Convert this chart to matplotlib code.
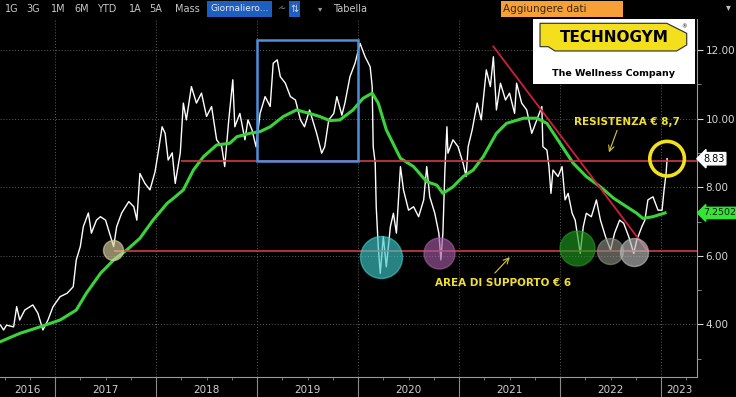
import matplotlib.pyplot as plt
import matplotlib.transforms as mtrans
from matplotlib.patches import Rectangle, Polygon

# price (decimal year, EUR)
price_t = [2016.46, 2016.49, 2016.52, 2016.59, 2016.62, 2016.65, 2016.70, 2016.78, 2016.83, 2016.88,
           2016.93, 2016.98, 2017.05, 2017.12, 2017.18, 2017.21, 2017.25, 2017.28, 2017.33, 2017.36,
           2017.41, 2017.45, 2017.50, 2017.54, 2017.58, 2017.61, 2017.66, 2017.73, 2017.78, 2017.81,
           2017.84, 2017.89, 2017.94, 2017.99, 2018.02, 2018.06, 2018.09, 2018.12, 2018.16, 2018.19,
           2018.24, 2018.27, 2018.30, 2018.35, 2018.40, 2018.45, 2018.50, 2018.55, 2018.60, 2018.65,
           2018.68, 2018.72, 2018.76, 2018.78, 2018.83, 2018.88, 2018.91, 2018.95, 2018.99, 2019.03,
           2019.08, 2019.13, 2019.16, 2019.20, 2019.23, 2019.28, 2019.33, 2019.38, 2019.43, 2019.47,
           2019.52, 2019.59, 2019.64, 2019.67, 2019.71, 2019.76, 2019.79, 2019.84, 2019.87, 2019.92,
           2019.97, 2020.02, 2020.07, 2020.12, 2020.14, 2020.15, 2020.17, 2020.18, 2020.20, 2020.22,
           2020.25, 2020.28, 2020.32, 2020.35, 2020.38, 2020.42, 2020.45, 2020.50, 2020.55, 2020.60,
           2020.65, 2020.68, 2020.71, 2020.76, 2020.80, 2020.82, 2020.84, 2020.86, 2020.88, 2020.89,
           2020.94, 2020.99, 2021.04, 2021.07, 2021.09, 2021.13, 2021.18, 2021.22, 2021.27, 2021.31,
           2021.34, 2021.37, 2021.41, 2021.46, 2021.50, 2021.55, 2021.57, 2021.62, 2021.67, 2021.72,
           2021.77, 2021.82, 2021.83, 2021.87, 2021.89, 2021.91, 2021.93, 2021.98, 2022.02, 2022.05,
           2022.08, 2022.12, 2022.15, 2022.18, 2022.20, 2022.23, 2022.26, 2022.31, 2022.36, 2022.40,
           2022.45, 2022.50, 2022.54, 2022.59, 2022.63, 2022.68, 2022.73, 2022.76, 2022.81, 2022.84,
           2022.87, 2022.92, 2022.97, 2023.01, 2023.03, 2023.05, 2023.06]
price_v = [3.98, 3.84, 3.98, 3.93, 4.52, 4.13, 4.42, 4.57, 4.33, 3.84,
           4.13, 4.52, 4.81, 4.91, 5.10, 5.88, 6.27, 6.85, 7.25, 6.66,
           7.04, 7.14, 7.04, 6.66, 6.27, 6.85, 7.25, 7.58, 7.43, 7.04,
           8.40, 8.11, 7.92, 8.45, 8.99, 9.76, 9.57, 8.79, 9.00, 8.11,
           9.00, 10.45, 9.96, 10.93, 10.45, 10.74, 10.06, 10.35, 9.38, 9.18,
           8.60, 9.96, 11.13, 9.76, 10.15, 9.38, 9.96, 9.67, 9.18, 10.15,
           10.64, 10.35, 11.61, 11.71, 11.22, 11.03, 10.64, 10.54, 9.96, 9.76,
           10.25, 9.57, 8.99, 9.18, 9.96, 10.15, 10.64, 10.10, 10.45, 11.22,
           11.61, 12.19, 11.80, 11.51, 10.93, 9.18, 8.70, 7.43, 6.27, 5.49,
           6.56, 5.68, 6.85, 7.24, 6.66, 8.60, 7.92, 7.33, 7.43, 7.14,
           7.63, 8.60, 7.72, 7.24, 6.66, 5.88, 6.66, 8.50, 9.76, 8.99,
           9.38, 9.18, 8.70, 8.31, 9.18, 9.67, 10.45, 9.96, 11.42, 10.93,
           11.80, 10.25, 11.03, 10.54, 10.74, 10.15, 11.03, 10.45, 10.25, 9.57,
           9.96, 10.35, 9.18, 9.08, 8.60, 7.82, 8.50, 8.31, 8.60, 7.63,
           7.82, 7.24, 7.04, 6.46, 6.07, 6.85, 7.24, 7.14, 7.63, 7.04,
           6.56, 6.17, 6.66, 7.04, 6.95, 6.56, 6.07, 6.46, 6.85, 7.04,
           7.63, 7.72, 7.33, 7.33, 7.92, 8.40, 8.83]

# moving average (green)
ma_t = [2016.46, 2016.65, 2016.85, 2017.05, 2017.21, 2017.31, 2017.45, 2017.58, 2017.71, 2017.84,
        2017.97, 2018.11, 2018.19, 2018.27, 2018.37, 2018.47, 2018.60, 2018.73, 2018.80, 2018.93,
        2019.03, 2019.13, 2019.26, 2019.39, 2019.52, 2019.62, 2019.72, 2019.82, 2019.95, 2020.05,
        2020.14, 2020.20, 2020.28, 2020.42, 2020.55, 2020.68, 2020.78, 2020.84, 2020.94, 2021.04,
        2021.14, 2021.24, 2021.37, 2021.47, 2021.64, 2021.77, 2021.87, 2022.00, 2022.13, 2022.26,
        2022.40, 2022.53, 2022.66, 2022.76, 2022.82, 2022.92, 2023.04]
ma_v = [3.50, 3.74, 3.93, 4.13, 4.42, 4.91, 5.49, 5.88, 6.17, 6.51,
        7.04, 7.53, 7.72, 7.92, 8.50, 8.89, 9.23, 9.28, 9.47, 9.57,
        9.62, 9.76, 10.06, 10.25, 10.15, 10.06, 9.94, 9.96, 10.25, 10.59,
        10.74, 10.45, 9.67, 8.84, 8.60, 8.16, 8.06, 7.82, 8.01, 8.31,
        8.50, 8.89, 9.57, 9.86, 10.01, 10.01, 9.86, 9.28, 8.70, 8.31,
        8.01, 7.68, 7.43, 7.24, 7.09, 7.14, 7.25]

last_price = "8.83"
last_ma = "7.2502"

resistance = 8.75
resistance_start = 2018.25
support = 6.15
support_start = 2017.58
trend_t = [2021.34, 2022.86]
trend_v = [12.10, 6.17]
box_t = [2019.0, 2020.0]
box_v = [8.76, 12.29]

# highlighted lows: date, level, colour, radius px
circle_t = [2017.57, 2020.23, 2020.80, 2022.17, 2022.49, 2022.73]
circle_v = [6.17, 5.97, 6.07, 6.22, 6.15, 6.10]
circle_c = ["#d9cf9f", "#3fc9c9", "#a25aa0", "#1f9a1f", "#8a8a80", "#b9b9b9"]
circle_r = [10, 21, 15.5, 17.5, 13, 14]

years = [2016, 2017, 2018, 2019, 2020, 2021, 2022, 2023]
y_ticks = [4, 6, 8, 10, 12]

xlim = (2016.455, 2023.356)
ylim = (2.47, 12.90)

W, H = 736, 397
fig = plt.figure(figsize=(W / 100, H / 100), dpi=100, facecolor="black")
ax = fig.add_axes([0, 20 / H, 697 / W, 358 / H])
ax.set_facecolor("black")
ax.set_xlim(*xlim)
ax.set_ylim(*ylim)

ax.plot(price_t, price_v, color="white", lw=1.0, zorder=3)
ax.plot(ma_t, ma_v, color="#3ad43a", lw=2.2, zorder=4)

ax.hlines(resistance, resistance_start, xlim[1], color="#d23a48", lw=1.2, zorder=5)
ax.hlines(support, support_start, xlim[1], color="#d23a48", lw=1.2, zorder=5)
ax.plot(trend_t, trend_v, color="#d01f3a", lw=1.3, zorder=5)
ax.add_patch(Rectangle((box_t[0], box_v[0]), box_t[1] - box_t[0], box_v[1] - box_v[0],
                       fill=False, ec="#4f8fdc", lw=1.8, zorder=6))

for t, v, c, r in zip(circle_t, circle_v, circle_c, circle_r):
    s = (2 * r * 0.72) ** 2
    ax.scatter([t], [v], s=s, color=c, alpha=0.65, edgecolors=c, linewidths=1, zorder=7)
ax.scatter([price_t[-1]], [float(last_price)], s=(2 * 17.3 * 0.72) ** 2, facecolors="none",
           edgecolors="#f2e21e", linewidths=2.6, zorder=8)

ax.text(2022.66, 9.91, "RESISTENZA € 8,7", color="#f0e030", fontsize=7.5, fontweight="bold",
        ha="center", va="center", zorder=9)
ax.annotate("", xy=(2022.475, 8.94), xytext=(2022.574, 9.73),
            arrowprops=dict(arrowstyle="->", color="#d8cc3a", lw=0.8), zorder=9)
ax.text(2021.435, 5.22, "AREA DI SUPPORTO € 6", color="#f0e030", fontsize=7.5, fontweight="bold",
        ha="center", va="center", zorder=9)
ax.annotate("", xy=(2021.521, 6.02), xytext=(2021.336, 5.44),
            arrowprops=dict(arrowstyle="->", color="#d8cc3a", lw=0.8), zorder=9)

# axes styling
for side in ["left", "top"]:
    ax.spines[side].set_visible(False)
for side in ["right", "bottom"]:
    ax.spines[side].set_color("#9a9a9a")
    ax.spines[side].set_linewidth(0.8)

ax.yaxis.tick_right()
ax.set_yticks(y_ticks)
ax.set_yticklabels(["%.2f" % v for v in y_ticks])
ax.set_yticks([3, 5, 7, 9, 11], minor=True)
ax.tick_params(axis="y", which="major", colors="#d8d8d8", labelsize=7.5, length=4, pad=2)
ax.tick_params(axis="y", which="minor", colors="#9a9a9a", length=3)

year_starts = [y for y in years if xlim[0] < y < xlim[1]]
ax.set_xticks(year_starts)
ax.set_xticklabels([])
quarters = [y + q for y in [2016] + year_starts for q in (0.25, 0.5, 0.75) if xlim[0] < y + q < xlim[1]]
ax.set_xticks(quarters, minor=True)
ax.tick_params(axis="x", which="major", colors="#8a8a8a", length=14.5, width=0.8)
ax.tick_params(axis="x", which="minor", colors="#8a8a8a", length=2.5)

ax.grid(which="major", color="#5e5e5e", ls=(0, (1, 2)), lw=0.7, zorder=1)

blend = mtrans.blended_transform_factory(ax.transData, ax.transAxes)
for y in years:
    mid = (max(y, xlim[0]) + min(y + 1, xlim[1])) / 2
    ax.text(mid, -0.036, str(y), transform=blend, ha="center", va="center",
            color="#d0d0d0", fontsize=7.5)

tag = mtrans.blended_transform_factory(ax.transAxes, ax.transData)
ax.text(1.009, float(last_price), last_price, transform=tag, ha="left", va="center", fontsize=7,
        color="black", clip_on=False,
        bbox=dict(boxstyle="larrow,pad=0.12", fc="white", ec="white"))
ax.text(1.009, float(last_ma), last_ma, transform=tag, ha="left", va="center", fontsize=6.8,
        color="#1a1a1a", clip_on=False,
        bbox=dict(boxstyle="larrow,pad=0.12", fc="#33e633", ec="#33e633"))

# logo box
lg = fig.add_axes([532.7 / W, 1 - 84 / H, 162.3 / W, 65 / H])
lg.set_xlim(0, 1)
lg.set_ylim(0, 1)
lg.set_facecolor("white")
lg.set_xticks([])
lg.set_yticks([])
for s in lg.spines.values():
    s.set_visible(False)
badge = [(0.045, 0.934), (0.826, 0.934), (0.949, 0.78), (0.949, 0.60), (0.887, 0.508),
         (0.137, 0.508), (0.096, 0.574), (0.045, 0.574)]
lg.add_patch(Polygon(badge, closed=True, fc="#f4df1c", ec="#2a2a2a", lw=0.8))
lg.text(0.5, 0.72, "TECHNOGYM", ha="center", va="center", fontsize=11, fontweight="bold",
        color="black")
lg.text(0.93, 0.88, "®", ha="center", va="center", fontsize=4, color="black")
lg.text(0.495, 0.16, "The Wellness Company", ha="center", va="center", fontsize=6.8,
        fontweight="bold", color="black")


# toolbar
def fx(x):
    return x / W


def fy(y):
    return 1 - y / H


tool_labels = ["1G", "3G", "1M", "6M", "YTD", "1A", "5A", "Mass"]
tool_x = [11.7, 33, 58, 82, 107, 135, 156, 187]
for lab, x in zip(tool_labels, tool_x):
    fig.text(fx(x), fy(8.5), lab, ha="center", va="center", color="#c8c8c8", fontsize=7)
fig.add_artist(Rectangle((fx(207), fy(17)), fx(272) - fx(207), 16 / H, transform=fig.transFigure,
                         fc="#1d5fc0", ec="none"))
fig.text(fx(239.5), fy(8.5), "Giornaliero...", ha="center", va="center", color="#e8e8e8", fontsize=6.5)
fig.text(fx(282), fy(8.5), "⩪", ha="center", va="center", color="#9a9a9a", fontsize=7)
fig.add_artist(Rectangle((fx(289), fy(17)), fx(300) - fx(289), 16 / H, transform=fig.transFigure,
                         fc="#1d5fc0", ec="none"))
fig.text(fx(294.5), fy(8.5), "⇅", ha="center", va="center", color="#d0d0d0", fontsize=7)
fig.text(fx(320), fy(8.5), "▾", ha="center", va="center", color="#9a9a9a", fontsize=6)
fig.text(fx(350), fy(8.5), "Tabella", ha="center", va="center", color="#c8c8c8", fontsize=7)
fig.add_artist(Rectangle((fx(500.7), fy(17)), fx(623.3) - fx(500.7), 16 / H, transform=fig.transFigure,
                         fc="#f7a038", ec="none"))
fig.text(fx(503), fy(8.5), "Aggiungere dati", ha="left", va="center", color="#3a2a10", fontsize=7.5)
fig.text(fx(728), fy(7), "▾", ha="center", va="center", color="#c0c0c0", fontsize=7)

fig.savefig("out.png", dpi=100, facecolor="black")
